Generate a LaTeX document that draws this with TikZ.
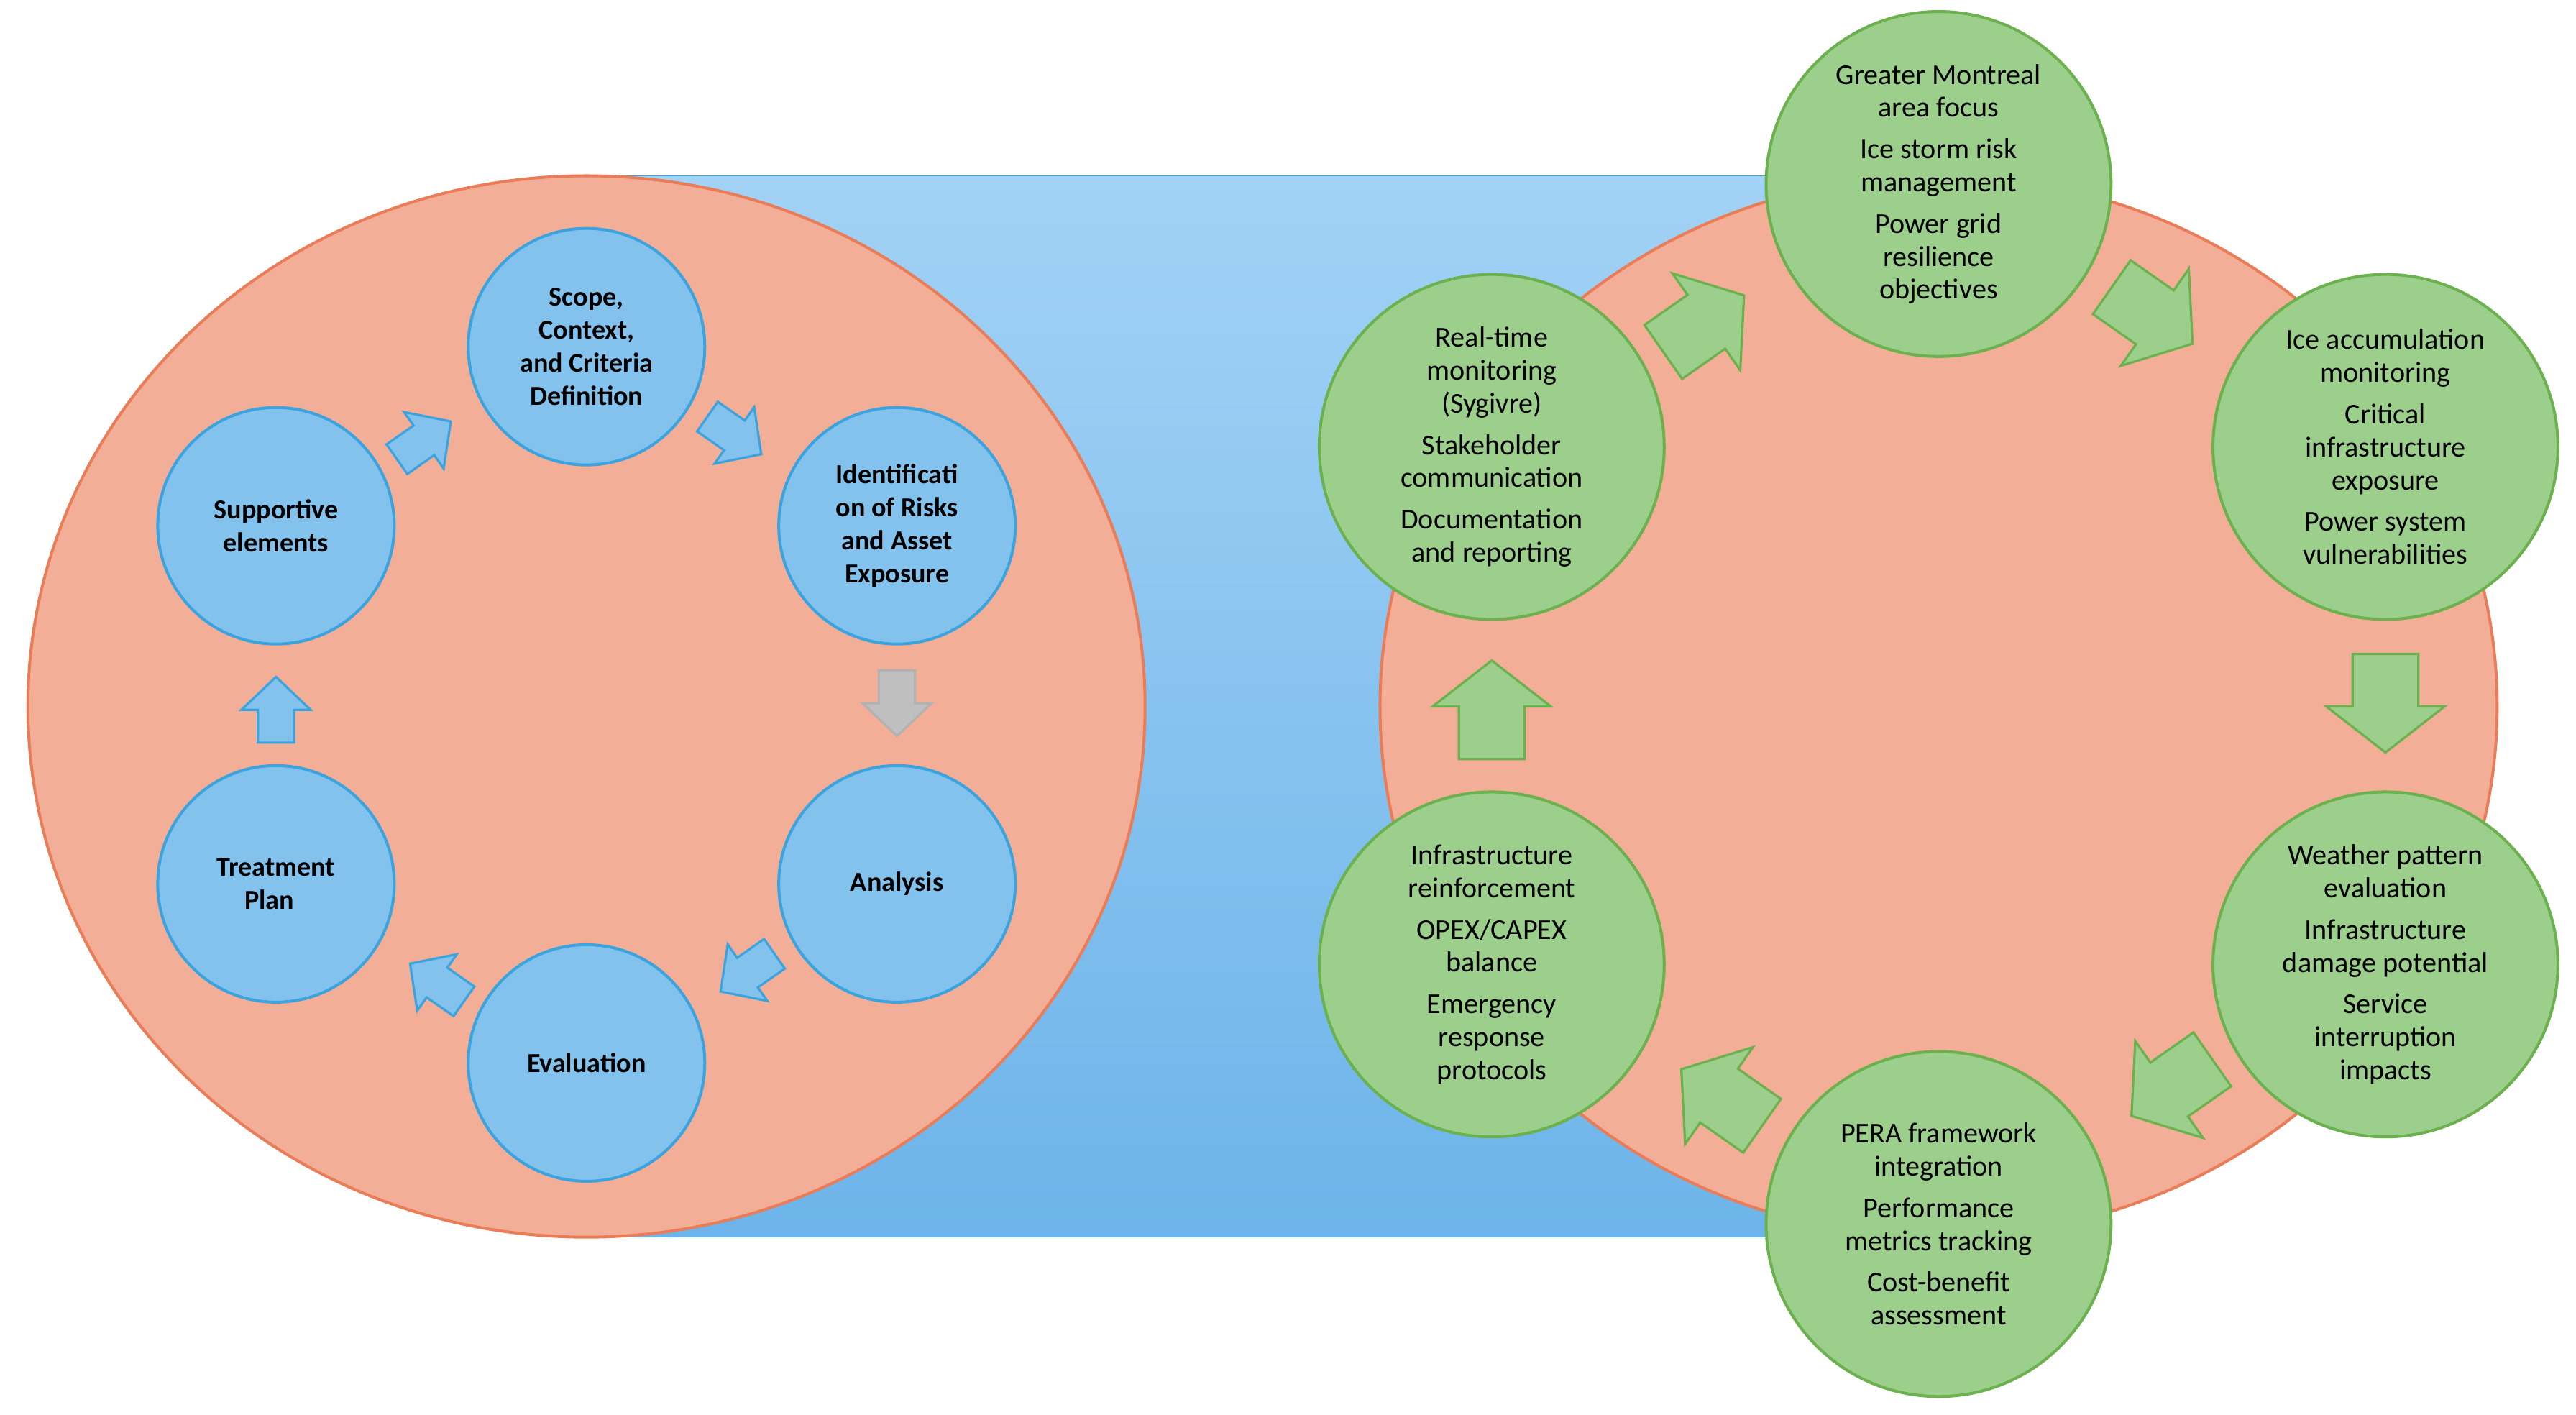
\documentclass[tikz,border=0pt]{standalone}
\usepackage{fontspec}
\setmainfont{Carlito}
\definecolor{salmon}{HTML}{F2AE96}
\definecolor{salmonB}{HTML}{EA7C58}
\definecolor{bluetop}{HTML}{A2D2F5}
\definecolor{bluebot}{HTML}{6DB4EA}
\definecolor{blueB}{HTML}{3BA3DE}
\definecolor{bluec}{HTML}{84C2EE}
\definecolor{greenc}{HTML}{9CCF8C}
\definecolor{greenB}{HTML}{6BB14E}
\begin{document}
\begin{tikzpicture}[x=0.02cm,y=-0.02cm,
 bc/.style={circle,minimum size=2.88cm,inner sep=0pt,draw=blueB,line width=1pt,fill=bluec,
   align=center,font=\fontsize{9.5}{11.4}\selectfont\bfseries},
 gc/.style={circle,minimum size=4.2cm,inner sep=0pt,draw=greenB,line width=1pt,fill=greenc,
   align=center,font=\fontsize{10}{11.4}\selectfont},
 ba/.style={draw=blueB,fill=bluec,line width=0.8pt},
 ga/.style={draw=greenB,fill=greenc,line width=0.8pt},
 pics/sb/.style={code={%
   \path[pic actions] (-20,-11) -- (0,-11) -- (0,-21) -- (20,0) -- (0,21) -- (0,11) -- (-20,11) -- cycle;}},
 pics/sg/.style={code={%
   \path[pic actions] (-30,-20) -- (2,-20) -- (2,-36) -- (30,0) -- (2,36) -- (2,20) -- (-30,20) -- cycle;}}]
\useasboundingbox (0,0) rectangle (1568,861);
\fill[white] (0,0) rectangle (1568,861);
\shade[top color=bluetop,bottom color=bluebot,draw=blueB] (355,107) rectangle (1180,753);
\draw[fill=salmon,draw=salmonB,line width=1pt] (357,430) ellipse (340 and 323);
\draw[fill=salmon,draw=salmonB,line width=1pt] (1180,430) ellipse (340 and 323);
% left cycle
\node[bc] (s) at (357,211) {Scope,\\Context,\\and Criteria\\Definition};
\node[bc] (i) at (546,320) {Identificati\\on of Risks\\and Asset\\Exposure};
\node[bc] (a) at (546,538) {Analysis};
\node[bc] (e) at (357,647) {Evaluation};
\node[bc] (t) at (168,538) {Treatment\\Plan\phantom{ii}};
\node[bc] (p) at (168,320) {Supportive\\elements};
\pic[ba,rotate=-35] (a1) at (447,265) {sb};
\pic[ba,rotate=-90,draw=gray!60,fill=gray!50] (a2) at (546,428) {sb};
\pic[ba,rotate=-145] (a3) at (455,592) {sb};
\pic[ba,rotate=145] (a4) at (266,598) {sb};
\pic[ba,rotate=90] (a5) at (168,432) {sb};
\pic[ba,rotate=35] (a6) at (258,268) {sb};
% right cycle
\node[gc] (g1) at (1180,112) {Greater Montreal\\area focus\\[3pt]Ice storm risk\\management\\[3pt]Power grid\\resilience\\objectives};
\node[gc] (g2) at (1452,272) {Ice accumulation\\monitoring\\[3pt]Critical\\infrastructure\\exposure\\[3pt]Power system\\vulnerabilities};
\node[gc] (g3) at (1452,587) {Weather pattern\\evaluation\\[3pt]Infrastructure\\damage potential\\[3pt]Service\\interruption\\impacts};
\node[gc] (g4) at (1180,745) {PERA framework\\integration\\[3pt]Performance\\metrics tracking\\[3pt]Cost-benefit\\assessment};
\node[gc] (g5) at (908,587) {Infrastructure\\reinforcement\\[3pt]OPEX/CAPEX\\balance\\[3pt]Emergency\\response\\protocols};
\node[gc] (g6) at (908,272) {Real-time\\monitoring\\(Sygivre)\\[3pt]Stakeholder\\communication\\[3pt]Documentation\\and reporting};
\pic[ga,rotate=35] (b1) at (1037,197) {sg};
\pic[ga,rotate=-35] (b2) at (1310,192) {sg};
\pic[ga,rotate=-90] (b3) at (1452,428) {sg};
\pic[ga,rotate=-145] (b4) at (1322,662) {sg};
\pic[ga,rotate=145] (b5) at (1048,668) {sg};
\pic[ga,rotate=90] (b6) at (908,432) {sg};
\end{tikzpicture}
\end{document}
